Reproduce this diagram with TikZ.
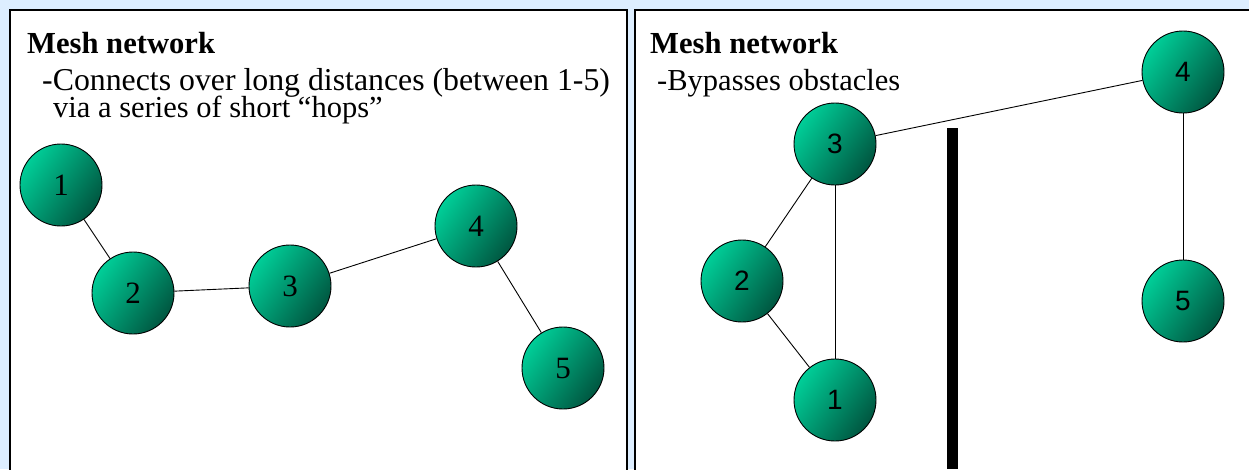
\documentclass[tikz,border=0pt]{standalone}
\usepackage{fontspec}
\setmainfont{Liberation Serif}
\newfontfamily\labelsans{Liberation Sans}
\begin{document}
\begin{tikzpicture}[x=1pt,y=-1pt,
  bigtext/.style={font=\rmfamily\fontsize{30.5}{30.5}\selectfont, anchor=base west, inner sep=0},
  widetext/.style={bigtext, font=\rmfamily\fontsize{31.8}{31.8}\selectfont},
  titletext/.style={bigtext, font=\rmfamily\bfseries\fontsize{30.6}{30.6}\selectfont},
  meshdisc/.style={circle, draw=black, line width=0.9pt, minimum size=82pt, inner sep=0,
    left color=meshlight, right color=meshdark, shading angle=55},
  meshnode/.style={meshdisc,
    execute at begin node={\rmfamily\fontsize{31}{31}\selectfont}},
  sansnode/.style={meshdisc,
    execute at begin node={\labelsans\fontsize{28}{28}\selectfont}},
  link/.style={line width=0.9pt},
  panel/.style={draw=black, line width=2.6pt, fill=white}]
\definecolor{meshlight}{RGB}{0,206,152}
\definecolor{meshdark}{RGB}{0,86,64}
\definecolor{backblue}{RGB}{221,238,255}
\useasboundingbox (0,0) rectangle (1249,469);
\fill[backblue] (0,0) rectangle (1249,469);
% two panels, open at the bottom edge
\draw[panel] (10,10) rectangle (627,490);
\draw[panel] (635,10) rectangle (1270,490);

% left panel: long distance via short hops
\node[titletext] (ltitle) at (27,53) {Mesh network};
\node[widetext] (lline1) at (42,90) {-Connects over long distances (between 1-5)};
\node[bigtext] (lline2) at (53,117) {via a series of short ``hops''};

\node[meshnode] (l1) at (61,185) {1};
\node[meshnode] (l2) at (133,293) {2};
\node[meshnode] (l3) at (290,286) {3};
\node[meshnode] (l4) at (476,226) {4};
\node[meshnode] (l5) at (563,368) {5};
\draw[link] (l1) -- (l2);
\draw[link] (l2) -- (l3);
\draw[link] (l3) -- (l4);
\draw[link] (l4) -- (l5);

% right panel: routing around an obstacle
\node[titletext] (rtitle) at (650,53) {Mesh network};
\node[bigtext] (rline1) at (657,90) {-Bypasses obstacles};

\fill[black] (947,128) rectangle (958,469);

\node[sansnode] (r1) at (835,400) {1};
\node[sansnode] (r2) at (742,281) {2};
\node[sansnode] (r3) at (835,144) {3};
\node[sansnode] (r4) at (1183,72) {4};
\node[sansnode] (r5) at (1183,301) {5};
\draw[link] (r3) -- (r4);
\draw[link] (r3) -- (r2);
\draw[link] (r3) -- (r1);
\draw[link] (r2) -- (r1);
\draw[link] (r4) -- (r5);
\end{tikzpicture}
\end{document}
